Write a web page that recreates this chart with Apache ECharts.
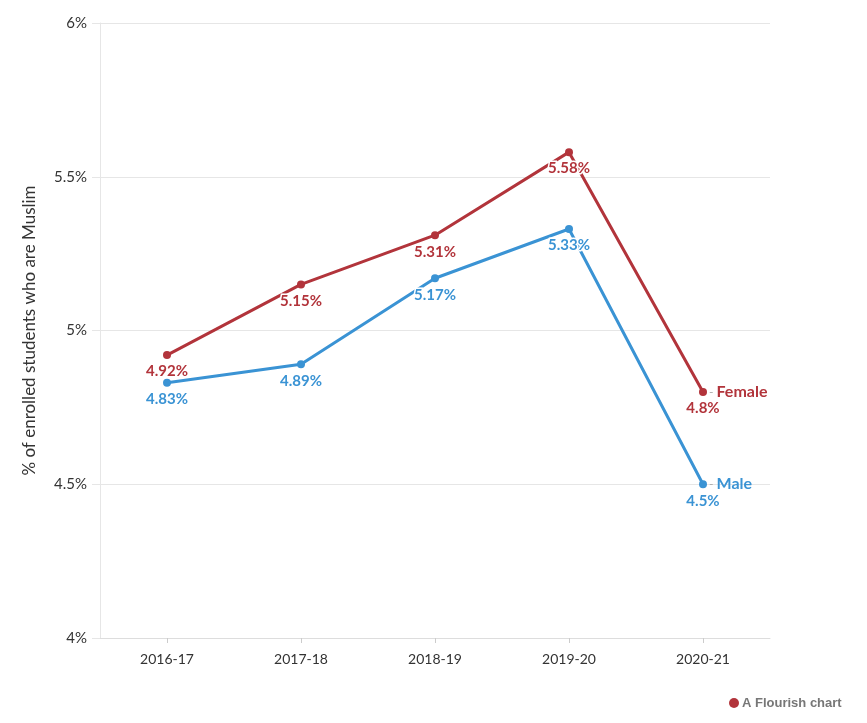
<!DOCTYPE html>
<html><head><meta charset="utf-8">
<script src="https://cdn.jsdelivr.net/npm/echarts@6/dist/echarts.min.js"></script>
<style>html,body{margin:0;padding:0;background:#fff}#c{width:867px;height:723px}</style>
</head><body><div id="c"></div>
<script>
const categories = ['2016-17','2017-18','2018-19','2019-20','2020-21'];
const female = [4.92, 5.15, 5.31, 5.58, 4.8];
const male = [4.83, 4.89, 5.17, 5.33, 4.5];
const yTicks = [4, 4.5, 5, 5.5, 6];
const FONT = 'Lato, "Noto Sans", sans-serif';
const RED = '#b2343b', BLUE = '#3a93d4';
function fmtVal(v){ return v + '%'; }
function mk(name, data, color){
  return {
    name, type:'line', data, symbol:'circle', symbolSize:8,
    lineStyle:{color, width:3}, itemStyle:{color},
    label:{show:true, position:'bottom', distance:5, color, fontFamily:FONT, fontWeight:'bold', fontSize:15,
      textBorderColor:'#fff', textBorderWidth:3, formatter:p=>fmtVal(p.value)},
    endLabel:{show:true, distance:6, fontFamily:FONT, formatter:'{d|-} {n|'+name+'}',
      rich:{d:{color:'#aaa', fontSize:12}, n:{color, fontSize:16, fontWeight:'bold', fontFamily:FONT}}},
    z: 3
  };
}
const chart = echarts.init(document.getElementById('c'));
chart.setOption({
  animation:false,
  grid:{left:100, right:97, top:23, bottom:85},
  xAxis:{type:'category', data:categories, boundaryGap:true,
    axisLine:{lineStyle:{color:'#ddd'}}, axisTick:{show:true, alignWithLabel:true, length:5, lineStyle:{color:'#ccc'}},
    axisLabel:{color:'#333', fontSize:14, fontFamily:FONT, margin:14}},
  yAxis:{type:'value', min:4, max:6, interval:0.5,
    name:'% of enrolled students who are Muslim', nameLocation:'middle', nameGap:62, nameRotate:90,
    nameTextStyle:{color:'#333', fontSize:17, fontFamily:FONT},
    axisLine:{show:true, lineStyle:{color:'#e6e6e6'}}, axisTick:{show:true, length:8, lineStyle:{color:'#e6e6e6'}},
    splitLine:{lineStyle:{color:'#e6e6e6'}},
    axisLabel:{color:'#333', fontSize:15, fontFamily:FONT, margin:13, formatter:v=>(yTicks.includes(v)? String(v)+'%':'')}},
  series:[mk('Female', female, RED), mk('Male', male, BLUE)],
  graphic:[
    {type:'circle', left:729, top:698, shape:{r:5}, style:{fill:'#b2343b'}},
    {type:'text', left:742, top:697, style:{text:'A Flourish chart', fill:'#777', font:'bold 13px Arial, "Liberation Sans", sans-serif'}}
  ]
});
</script></body></html>
